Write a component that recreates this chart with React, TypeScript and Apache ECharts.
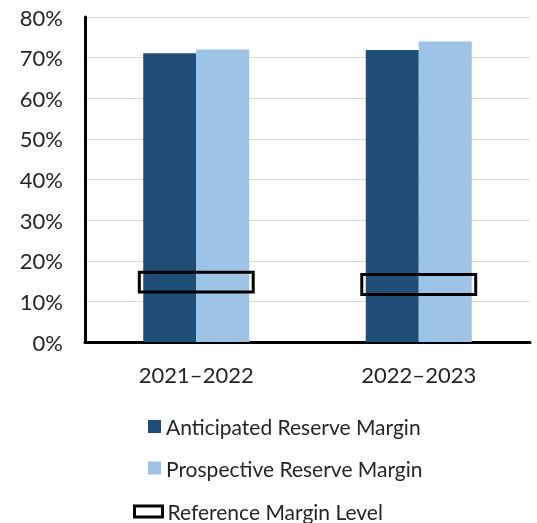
import React, { useEffect, useRef } from "react";
import * as echarts from "echarts";

const categories = ["2021–2022", "2022–2023"];
const anticipated = [71.1, 71.9];
const prospective = [72.0, 74.0];
const referenceLow = [12.3, 11.7];
const referenceHigh = [17.2, 16.6];
const yTicks = { min: 0, max: 80, interval: 10 };

const FONT = "Lato";

export default function App() {
  const ref = useRef<HTMLDivElement>(null);
  useEffect(() => {
    if (!ref.current) return;
    const chart = echarts.init(ref.current, undefined, { renderer: "svg" });
    const refData = categories.map((_, i) => [i, referenceLow[i], referenceHigh[i]]);
    chart.setOption({
      animation: false,
      textStyle: { fontFamily: FONT },
      grid: { left: 85, right: 7, top: 17, bottom: 181, containLabel: false },
      xAxis: {
        type: "category",
        data: categories,
        axisLine: { lineStyle: { color: "#000", width: 3 } },
        axisTick: { show: false },
        axisLabel: { color: "#262626", fontSize: 22, fontFamily: FONT, margin: 21 },
      },
      yAxis: {
        type: "value",
        min: yTicks.min,
        max: yTicks.max,
        interval: yTicks.interval,
        axisLine: { show: true, lineStyle: { color: "#000", width: 3 } },
        axisTick: { show: false },
        axisLabel: { color: "#262626", fontSize: 22, fontFamily: FONT, margin: 22, formatter: "{value}%" },
        splitLine: { lineStyle: { color: "#D9D9D9", width: 1 } },
      },
      legend: [
        {
          orient: "vertical",
          left: 143,
          top: 411,
          itemWidth: 13,
          itemHeight: 13,
          itemGap: 20.5,
          icon: "rect",
          textStyle: { fontSize: 21, lineHeight: 20, color: "#262626", fontFamily: FONT },
          data: ["Anticipated Reserve Margin", "Prospective Reserve Margin"],
        },
        {
          orient: "vertical",
          left: 128,
          top: 496,
          itemWidth: 28,
          itemHeight: 11,
          icon: "rect",
          textStyle: { fontSize: 21, lineHeight: 20, color: "#262626", fontFamily: FONT },
          data: [
            {
              name: "Reference Margin Level",
              itemStyle: { color: "#fff", borderColor: "#000", borderWidth: 3 },
            },
          ],
        },
      ],
      series: [
        {
          name: "Anticipated Reserve Margin",
          type: "bar",
          data: anticipated,
          barWidth: 53,
          barGap: "0%",
          itemStyle: { color: "#1F4E79" },
        },
        {
          name: "Prospective Reserve Margin",
          type: "bar",
          data: prospective,
          barWidth: 53,
          barGap: "0%",
          itemStyle: { color: "#9DC3E6" },
        },
        {
          name: "Reference Margin Level",
          type: "custom",
          z: 10,
          encode: { x: 0, y: [1, 2] },
          data: refData,
          itemStyle: { color: "#fff", borderColor: "#000", borderWidth: 3 },
          renderItem: (params: any, api: any) => {
            const bottom = api.coord([api.value(0), api.value(1)]);
            const top = api.coord([api.value(0), api.value(2)]);
            const w = api.size([1, 0])[0] * 0.512;
            return {
              type: "rect",
              shape: { x: bottom[0] - w / 2, y: top[1], width: w, height: bottom[1] - top[1] },
              style: { fill: "none", stroke: "#000", lineWidth: 3 },
            };
          },
        },
      ],
    });
    return () => chart.dispose();
  }, []);
  return <div ref={ref} style={{ position: "fixed", left: 0, top: 0, width: 537, height: 523 }} />;
}
